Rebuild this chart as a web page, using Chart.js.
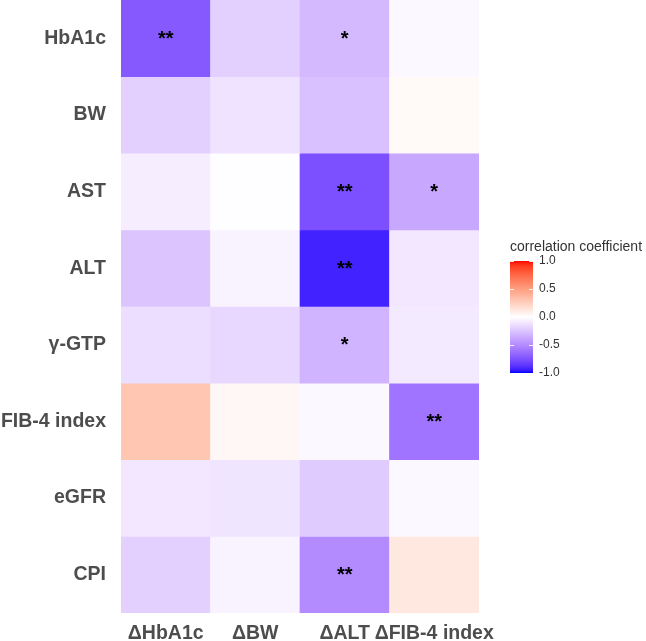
<!DOCTYPE html>
<html>
<head>
<meta charset="utf-8">
<title>Correlation heatmap</title>
<script src="https://cdn.jsdelivr.net/npm/chart.js@4.4.1/dist/chart.umd.min.js"></script>
<style>
    html, body { margin: 0; padding: 0; background: #ffffff; }
    #wrap { width: 646px; height: 641px; position: relative; }
</style>
</head>
<body>
<div id="wrap"><canvas id="heatmap"></canvas></div>
<script>
// columns (changes) and rows (baseline variables), top row first
const columns = ['ΔHbA1c', 'ΔBW', 'ΔALT', 'ΔFIB-4 index'];
const rowLabels = ['HbA1c', 'BW', 'AST', 'ALT', 'γ-GTP', 'FIB-4 index', 'eGFR', 'CPI'];

// correlation coefficients, one array per row (same order as columns)
const rHbA1c = [-0.72, -0.20, -0.30, -0.03];
const rBW    = [-0.20, -0.12, -0.27,  0.03];
const rAST   = [-0.07, -0.01, -0.76, -0.38];
const rALT   = [-0.25, -0.05, -0.93, -0.10];
const rGGTP  = [-0.14, -0.17, -0.32, -0.09];
const rFIB4  = [ 0.30,  0.04, -0.03, -0.60];
const rEGFR  = [-0.10, -0.11, -0.22, -0.03];
const rCPI   = [-0.20, -0.05, -0.50,  0.12];

// significance marks
const sHbA1c = ['**', '', '*', ''];
const sBW    = ['', '', '', ''];
const sAST   = ['', '', '**', '*'];
const sALT   = ['', '', '**', ''];
const sGGTP  = ['', '', '*', ''];
const sFIB4  = ['', '', '', '**'];
const sEGFR  = ['', '', '', ''];
const sCPI   = ['', '', '**', ''];

const legendTicks = [1.0, 0.5, 0.0, -0.5, -1.0];

const values = [rHbA1c, rBW, rAST, rALT, rGGTP, rFIB4, rEGFR, rCPI];
const marks = [sHbA1c, sBW, sAST, sALT, sGGTP, sFIB4, sEGFR, sCPI];

// --- colour scale: white -> blue / white -> red, interpolated in Lab ---
function srgbToLin(c) { c /= 255; return c <= 0.04045 ? c / 12.92 : Math.pow((c + 0.055) / 1.055, 2.4); }
function linToSrgb(c) {
    c = Math.max(0, Math.min(1, c));
    c = c <= 0.0031308 ? 12.92 * c : 1.055 * Math.pow(c, 1 / 2.4) - 0.055;
    return Math.round(c * 255);
}
function rgbToLab(rgb) {
    const r = srgbToLin(rgb[0]), g = srgbToLin(rgb[1]), b = srgbToLin(rgb[2]);
    let x = (0.4124 * r + 0.3576 * g + 0.1805 * b) / 0.95047;
    let y = (0.2126 * r + 0.7152 * g + 0.0722 * b);
    let z = (0.0193 * r + 0.1192 * g + 0.9505 * b) / 1.08883;
    const f = t => t > 0.008856 ? Math.cbrt(t) : 7.787 * t + 16 / 116;
    x = f(x); y = f(y); z = f(z);
    return [116 * y - 16, 500 * (x - y), 200 * (y - z)];
}
function labToRgb(lab) {
    const fy = (lab[0] + 16) / 116, fx = fy + lab[1] / 500, fz = fy - lab[2] / 200;
    const inv = t => t * t * t > 0.008856 ? t * t * t : (t - 16 / 116) / 7.787;
    const x = inv(fx) * 0.95047, y = inv(fy), z = inv(fz) * 1.08883;
    const r = 3.2406 * x - 1.5372 * y - 0.4986 * z;
    const g = -0.9689 * x + 1.8758 * y + 0.0415 * z;
    const b = 0.0557 * x - 0.2040 * y + 1.0570 * z;
    return [linToSrgb(r), linToSrgb(g), linToSrgb(b)];
}
const labWhite = rgbToLab([255, 255, 255]);
const labBlue = rgbToLab([0, 0, 255]);
const labRed = rgbToLab([255, 0, 0]);
function colorFor(v) {
    const end = v < 0 ? labBlue : labRed;
    const t = Math.min(1, Math.abs(v));
    const lab = labWhite.map((w, k) => w + (end[k] - w) * t);
    const c = labToRgb(lab);
    return 'rgb(' + c[0] + ',' + c[1] + ',' + c[2] + ')';
}

// one floating-bar dataset per row, spanning [i, i+1] on the reversed y axis
const datasets = rowLabels.map((name, i) => ({
    label: name,
    data: columns.map(() => [i, i + 1]),
    backgroundColor: values[i].map(colorFor),
    borderWidth: 0,
    barPercentage: 1,
    categoryPercentage: 1,
    grouped: false
}));

// asterisks at cell centres
const starPlugin = {
    id: 'stars',
    afterDatasetsDraw(chart) {
        const ctx = chart.ctx;
        const xs = chart.scales.x, ys = chart.scales.y;
        ctx.save();
        ctx.fillStyle = '#000000';
        ctx.font = 'bold 20px "Liberation Sans", Arial, sans-serif';
        ctx.textAlign = 'center';
        ctx.textBaseline = 'middle';
        marks.forEach((row, i) => {
            row.forEach((m, j) => {
                if (!m) return;
                ctx.fillText(m, xs.getPixelForValue(j), ys.getPixelForValue(i + 0.5) + 1);
            });
        });
        ctx.restore();
    }
};

// colourbar legend on the right
const colorbarPlugin = {
    id: 'colorbar',
    afterDraw(chart) {
        const ctx = chart.ctx;
        const left = 510, w = 23, top = 261, bottom = 373;
        const pos = v => top + (1 - v) / 2 * (bottom - top);
        ctx.save();
        const grad = ctx.createLinearGradient(0, top, 0, bottom);
        for (let k = 0; k <= 40; k++) {
            const v = 1 - k / 20;
            grad.addColorStop(k / 40, colorFor(v));
        }
        ctx.fillStyle = grad;
        ctx.fillRect(left, top, w, bottom - top);
        // small white tick marks
        ctx.strokeStyle = 'rgba(255,255,255,0.9)';
        ctx.lineWidth = 1;
        legendTicks.forEach(v => {
            const y = Math.round(pos(v)) + 0.5;
            ctx.beginPath();
            ctx.moveTo(left, y); ctx.lineTo(left + 4, y);
            ctx.moveTo(left + w - 4, y); ctx.lineTo(left + w, y);
            ctx.stroke();
        });
        ctx.fillStyle = '#333333';
        ctx.font = '14px "Liberation Sans", Arial, sans-serif';
        ctx.textAlign = 'left';
        ctx.textBaseline = 'middle';
        ctx.fillText('correlation coefficient', left, 247);
        ctx.font = '12px "Liberation Sans", Arial, sans-serif';
        legendTicks.forEach(v => {
            ctx.fillText(v.toFixed(1), left + w + 6, pos(v));
        });
        ctx.restore();
    }
};

const labelFont = { family: '"Liberation Sans", Arial, sans-serif', size: 19.5, weight: 'bold' };

new Chart(document.getElementById('heatmap'), {
    type: 'bar',
    data: { labels: columns, datasets: datasets },
    options: {
        responsive: true,
        maintainAspectRatio: false,
        animation: false,
        layout: { padding: { left: 0, right: 167, top: 0, bottom: 0 } },
        plugins: {
            legend: { display: false },
            tooltip: { enabled: false }
        },
        scales: {
            x: {
                grid: { display: false, drawTicks: false },
                border: { display: false },
                ticks: { color: '#4d4d4d', font: labelFont, padding: 9, maxRotation: 0, autoSkip: false },
                afterFit(scale) { scale.height = 28; scale.paddingLeft = 0; scale.paddingRight = 0; }
            },
            y: {
                type: 'linear',
                reverse: true,
                min: 0,
                max: rowLabels.length,
                grid: { display: false, drawTicks: false },
                border: { display: false },
                afterBuildTicks(scale) {
                    scale.ticks = rowLabels.map((_, i) => ({ value: i + 0.5 }));
                },
                ticks: {
                    color: '#4d4d4d',
                    font: labelFont,
                    padding: 15,
                    autoSkip: false,
                    callback: value => rowLabels[Math.floor(value)]
                },
                afterFit(scale) { scale.width = 121; scale.paddingTop = 0; scale.paddingBottom = 0; }
            }
        }
    },
    plugins: [starPlugin, colorbarPlugin]
});
</script>
</body>
</html>
